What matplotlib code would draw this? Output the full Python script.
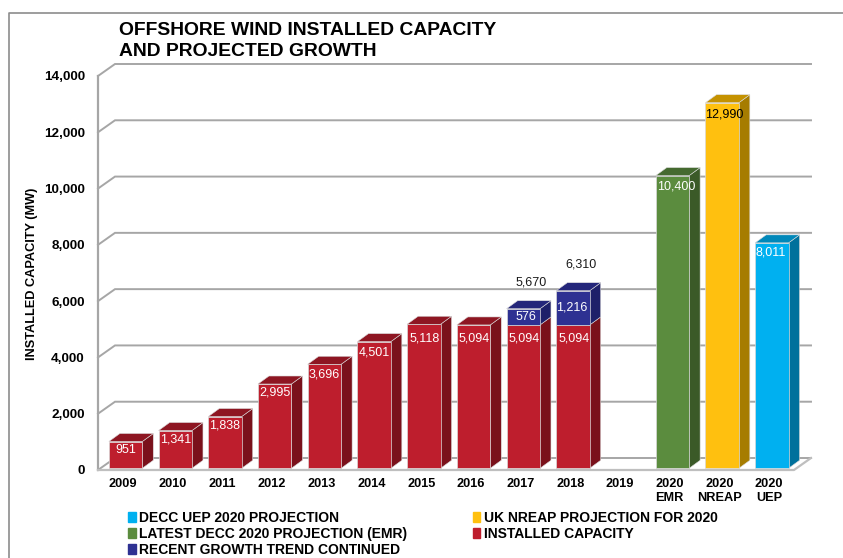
import matplotlib
matplotlib.use("Agg")
import matplotlib.pyplot as plt
from matplotlib.patches import Patch
from matplotlib.lines import Line2D

plt.rcParams['font.family'] = ['Liberation Sans', 'DejaVu Sans']

categories = ['2009', '2010', '2011', '2012', '2013', '2014', '2015', '2016', '2017', '2018', '2019',
              '2020\nEMR', '2020\nNREAP', '2020\nUEP']
installed = [951, 1341, 1838, 2995, 3696, 4501, 5118, 5094, 5094, 5094, 0, 0, 0, 0]
trend = [0, 0, 0, 0, 0, 0, 0, 0, 576, 1216, 0, 0, 0, 0]
totals = [5670, 6310]
emr = [0, 0, 0, 0, 0, 0, 0, 0, 0, 0, 0, 10400, 0, 0]
nreap = [0, 0, 0, 0, 0, 0, 0, 0, 0, 0, 0, 0, 12990, 0]
uep = [0, 0, 0, 0, 0, 0, 0, 0, 0, 0, 0, 0, 0, 8011]
yticks = [0, 2000, 4000, 6000, 8000, 10000, 12000, 14000]

# colours: front, side, top
RED = ('#BE1E2D', '#7A111B', '#8E1622')
BLUE = ('#2E3192', '#1E2069', '#24267A')
GREEN = ('#5B8C3E', '#3B5A28', '#456A30')
YELLOW = ('#FFC00F', '#A67C00', '#C59200')
CYAN = ('#00B0F0', '#00719C', '#0088BA')
GRID = '#a6a6a6'

W, H = 843, 558
fig = plt.figure(figsize=(W / 100, H / 100), dpi=100)
ax = fig.add_axes([98 / W, 1 - 470 / H, 696 / W, 394 / H])
ax.set_xlim(-0.5, 13.5)
ax.set_ylim(0, 14000)
for s in ax.spines.values():
    s.set_visible(False)
ax.patch.set_visible(False)

# size of one pixel in data units
PX_X = 14 / 696
PX_Y = 14000 / 394

# depth of the walls and of the bars
wall_dx, wall_dy = 17 * PX_X, 12 * PX_Y
bar_dx, bar_dy = 11 * PX_X, 8 * PX_Y
bar_w = 33.4 * PX_X
shift = 2.7 * PX_X
base = 1.7 * PX_Y

# frame round the picture
fig.add_artist(Line2D([8.5 / W, 8.5 / W, 1], [0, 1 - 12.5 / H, 1 - 12.5 / H], color='#8c8c8c', lw=1.2))

# walls
for v in yticks:
    ax.plot([-0.5, -0.5 + wall_dx, 13.5 + wall_dx], [v, v + wall_dy, v + wall_dy],
            color=GRID, lw=1.4, clip_on=False, zorder=1, solid_joinstyle='miter')
ax.plot([-0.5, -0.5], [0, 14000], color=GRID, lw=1.6, clip_on=False, zorder=1)
ax.plot([-0.5, 13.5, 13.5 + wall_dx], [0, 0, wall_dy], color='#bfbfbf', lw=1.6, clip_on=False, zorder=1)


def bar3d(x, bottom, top, cols, cap=True):
    x0 = x + shift - bar_w / 2
    x1 = x0 + bar_w
    ax.bar(x0, top - bottom, bar_w, bottom=bottom + base, align='edge', color=cols[0],
           edgecolor='#d9d9d9', linewidth=0.5, clip_on=False, zorder=3)
    ax.fill([x1, x1 + bar_dx, x1 + bar_dx, x1],
            [bottom + base, bottom + base + bar_dy, top + base + bar_dy, top + base],
            facecolor=cols[1], edgecolor='#d9d9d9', linewidth=0.4, clip_on=False, zorder=2.9)
    if cap:
        ax.fill([x0, x0 + bar_dx, x1 + bar_dx, x1],
                [top + base, top + base + bar_dy, top + base + bar_dy, top + base],
                facecolor=cols[2], edgecolor='#d9d9d9', linewidth=0.4, clip_on=False, zorder=3.1)


def label(x, y, txt, dx=0, dy=-10, color='white'):
    ax.annotate(txt, (x + shift, y + base), xytext=(dx * 0.72, dy * 0.72), textcoords='offset points',
                ha='center', va='center', fontsize=9, color=color, zorder=5, annotation_clip=False)


for i, c in enumerate(categories):
    if installed[i]:
        bar3d(i, 0, installed[i], RED, cap=not trend[i])
        if trend[i]:
            bar3d(i, installed[i], installed[i] + trend[i], BLUE)
    if emr[i]:
        bar3d(i, 0, emr[i], GREEN)
    if nreap[i]:
        bar3d(i, 0, nreap[i], YELLOW)
    if uep[i]:
        bar3d(i, 0, uep[i], CYAN)

red_dy = [-8.5, -8.5, -8.5, -8.5, -10, -11, -14, -14, -14, -14]
for i in range(10):
    label(i, installed[i], f'{installed[i]:,}', dy=red_dy[i], dx=1 if i > 5 else 0)
label(8, installed[8] + trend[8], f'{trend[8]:,}', dx=3, dy=-8)
label(9, installed[9] + trend[9], f'{trend[9]:,}', dx=-1, dy=-17)
label(8, totals[0], f'{totals[0]:,}', dx=8, dy=26, color='#1a1a1a')
label(9, totals[1], f'{totals[1]:,}', dx=8, dy=26, color='#1a1a1a')
label(11, emr[11], f'{emr[11]:,}', dx=3.5, dy=-10.5)
label(12, nreap[12], f'{nreap[12]:,}', dx=2, dy=-12, color='black')
label(13, uep[13], f'{uep[13]:,}', dx=-1, dy=-10)

ax.set_xticks(range(len(categories)))
ax.set_xticklabels(categories, fontsize=9.2, fontweight='bold', linespacing=1.3)
ax.set_yticks(yticks)
ax.set_yticklabels([f'{v:,}' for v in yticks], fontsize=9.7, fontweight='bold')
ax.tick_params(axis='both', length=0)
ax.tick_params(axis='x', pad=5.5)
ax.tick_params(axis='y', pad=9.5)

fig.text(32 / W, 1 - 274 / H, 'INSTALLED CAPACITY (MW)', rotation=90, ha='center', va='center',
         fontsize=9.2, fontweight='bold')
fig.text(119 / W, 1 - 56.5 / H, 'OFFSHORE WIND INSTALLED CAPACITY\nAND PROJECTED GROWTH', ha='left', va='baseline',
         fontsize=13.85, fontweight='bold', linespacing=1.33)

handles = [Patch(color=CYAN[0]), Patch(color=GREEN[0]), Patch(color=BLUE[0]), Patch(color=YELLOW[0]), Patch(color=RED[0])]
names = ['DECC UEP 2020 PROJECTION', 'LATEST DECC 2020 PROJECTION (EMR)', 'RECENT GROWTH TREND CONTINUED',
         'UK NREAP PROJECTION FOR 2020', 'INSTALLED CAPACITY']
fig.legend(handles, names, ncol=2, loc='upper left', bbox_to_anchor=(128 / W, 1 - 511 / H), frameon=False,
           prop={'size': 10, 'weight': 'bold'}, handlelength=0.55, handleheight=0.7, handletextpad=0.25,
           labelspacing=0.13, columnspacing=4.7, borderpad=0, borderaxespad=0)

fig.savefig('out.png', dpi=100, facecolor='white')
